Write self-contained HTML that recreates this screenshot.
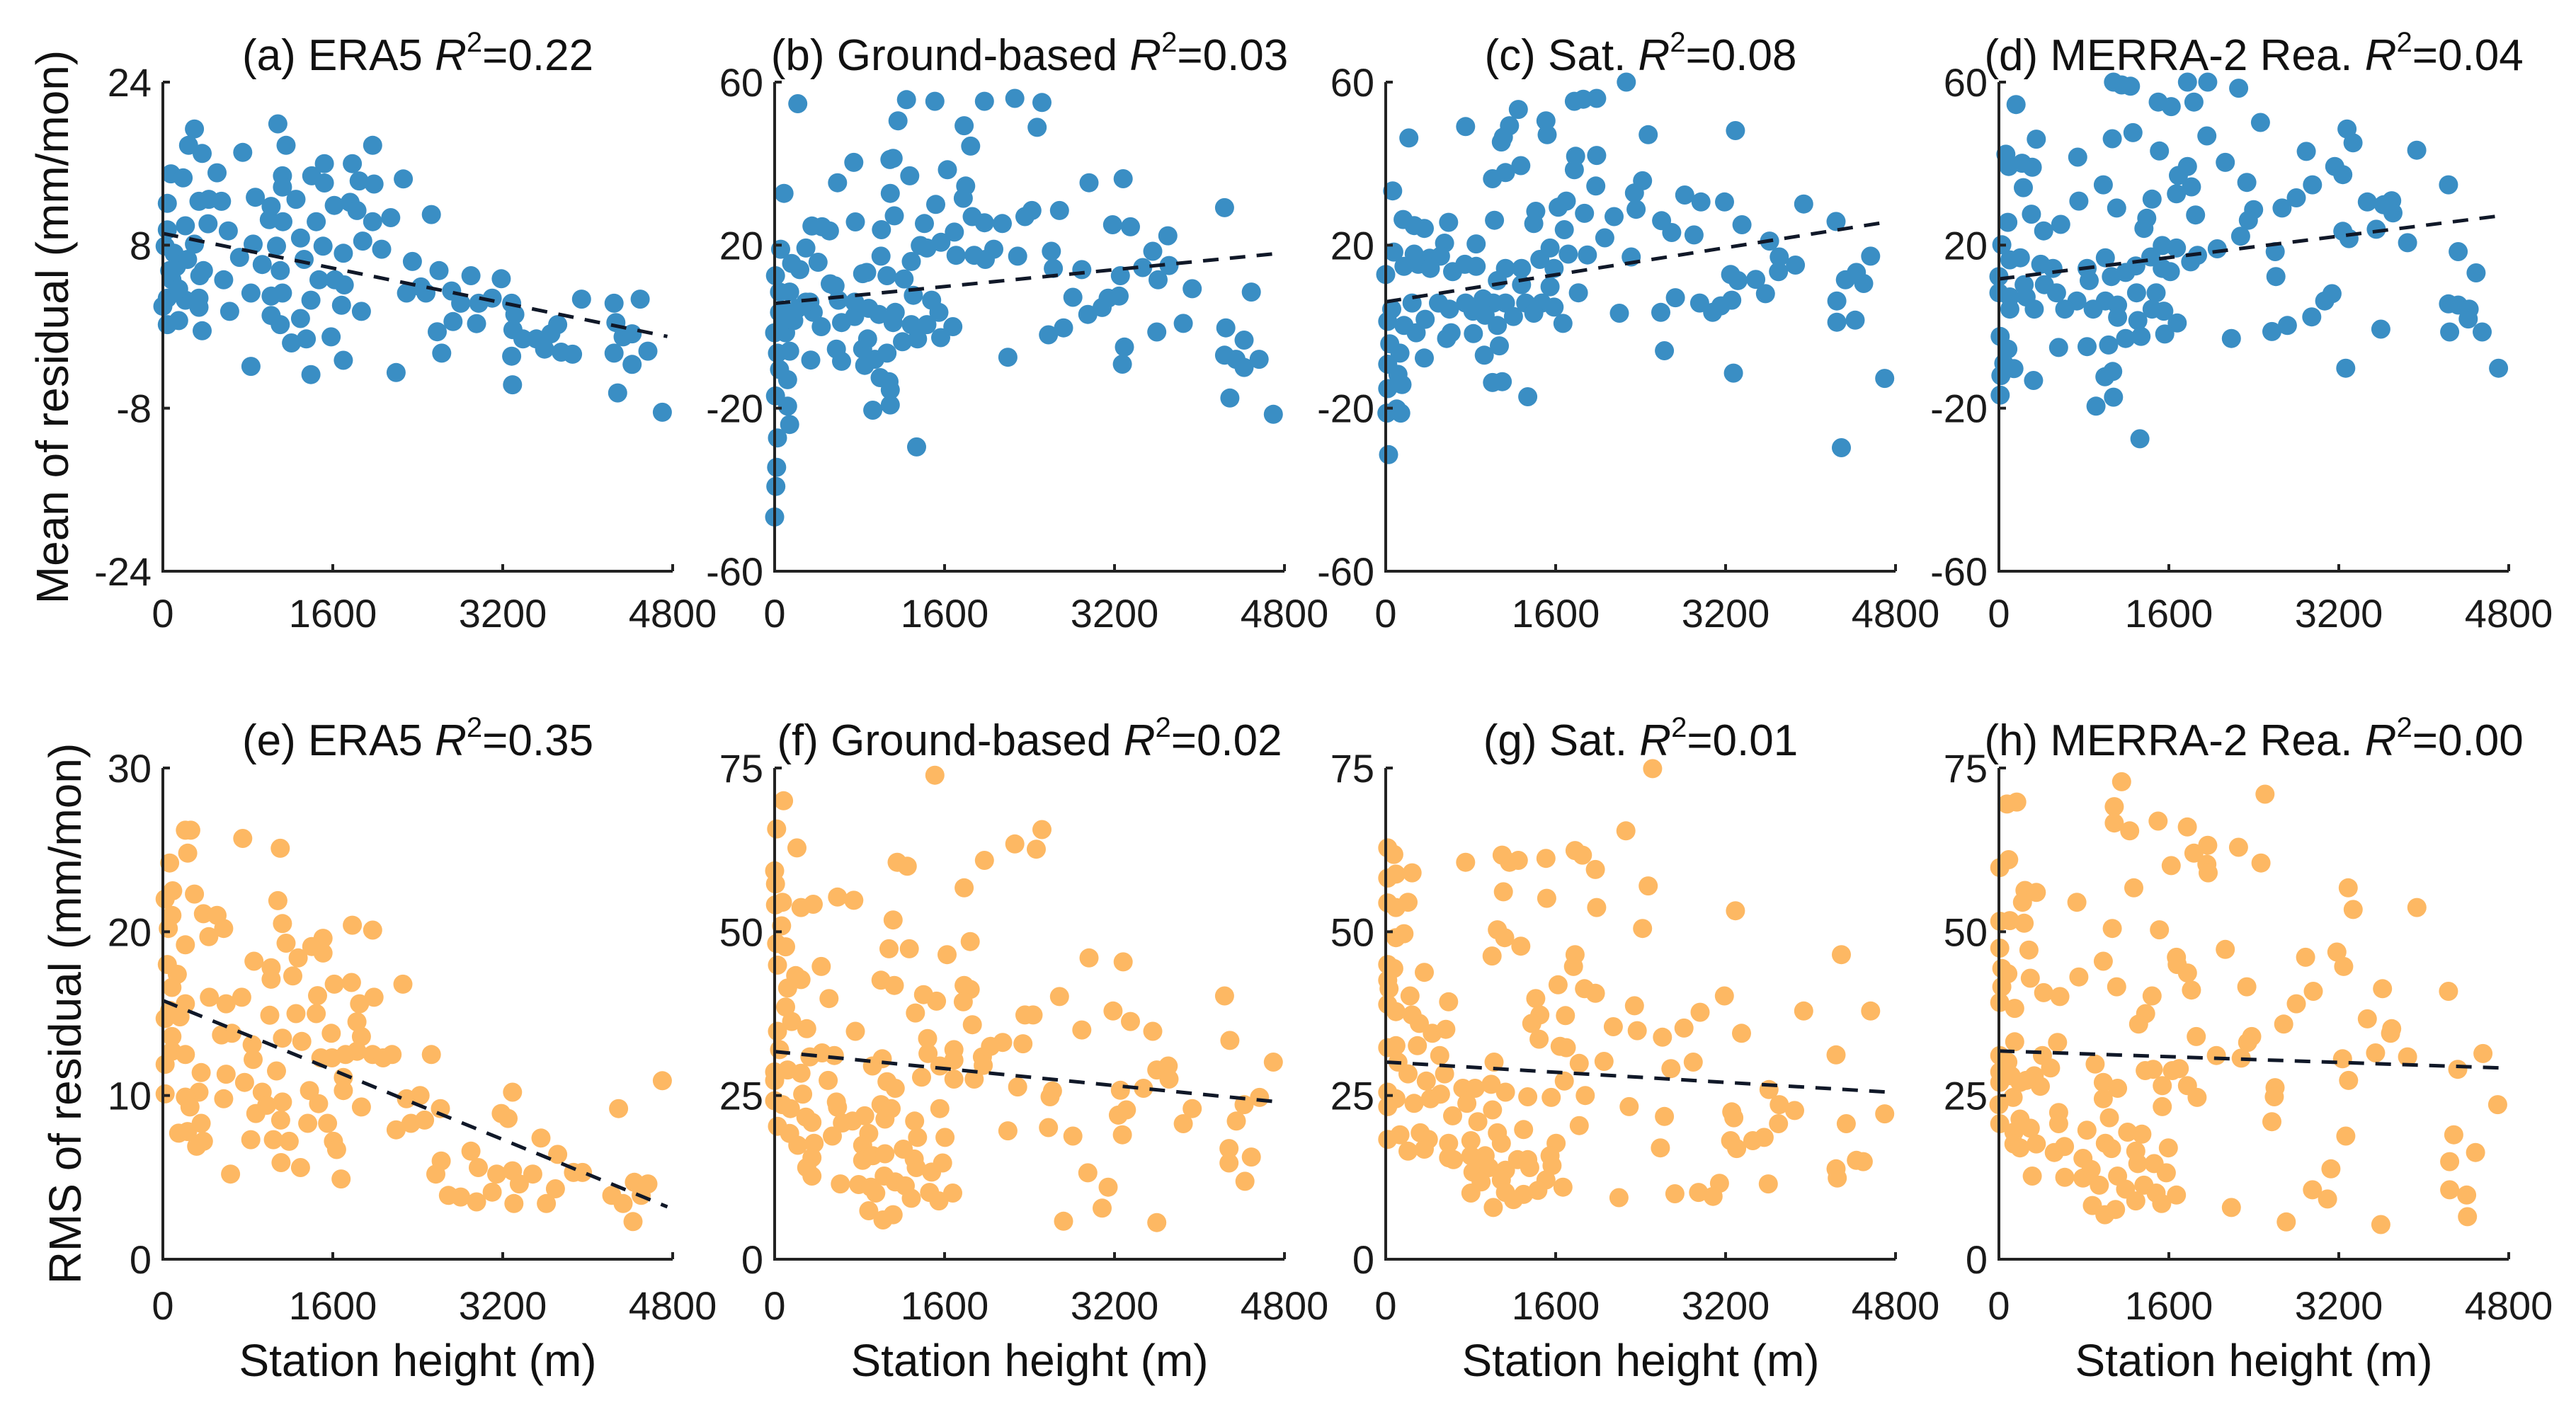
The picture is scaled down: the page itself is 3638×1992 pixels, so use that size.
<!DOCTYPE html>
<html><head><meta charset="utf-8"><style>
html,body{margin:0;padding:0;background:#fff;}
svg{display:block;font-family:"Liberation Sans",Arial,sans-serif;}
</style></head><body>
<svg id="chart" width="3638" height="1992" viewBox="0 0 3638 1992" xmlns="http://www.w3.org/2000/svg"></svg>
<script>
const xTicks=[0,1600,3200,4800];
const meanTicksA=[-24,-8,8,24];
const meanTicksB=[-60,-20,20,60];
const rmsTicksE=[0,10,20,30];
const rmsTicksF=[0,25,50,75];
const titles=[["(a) ERA5 ","0.22"],["(b) Ground-based ","0.03"],["(c) Sat. ","0.08"],["(d) MERRA-2 Rea. ","0.04"],["(e) ERA5 ","0.35"],["(f) Ground-based ","0.02"],["(g) Sat. ","0.01"],["(h) MERRA-2 Rea. ","0.00"]];
const trendStart=[9.15,5.7,6.1,11.7,15.8,31.7,30.1,31.8];
const trendEnd=[-0.96,18,25.8,27.3,3.2,24,25.5,29.2];
const trendXEnd=4750;

const pointsA=[[297,19.4],[1083,19.9],[242,17.8],[370,17],[752,17.1],[1160,17.8],[1975,17.8],[1521,16],[1784,16],[510,15.1],[76,15],[191,14.6],[1126,14.8],[1402,14.8],[1521,14.1],[1848,14.3],[1988,14],[2264,14.5],[1126,13.7],[871,12.7],[1253,12.5],[1019,11.8],[340,12.3],[433,12.5],[552,12.3],[42,12.1],[1614,11.9],[1763,12.2],[1827,11.4],[2528,11],[2145,10.7],[1975,10.3],[1002,10.5],[1130,10.3],[1444,10.3],[425,10.1],[616,9.4],[42,9.5],[212,9.9],[21,7.9],[850,8.1],[1070,7.9],[1296,8.7],[1508,7.9],[1699,7.2],[1882,8.4],[2060,7.6],[1330,6.6],[722,6.8],[935,6.1],[1105,5.5],[2349,6.4],[2600,5.5],[2901,5],[3186,4.7],[573,4.6],[348,5],[127,5.9],[85,4.6],[1470,4.6],[1619,4.6],[1708,4.1],[2430,3.9],[2294,3.3],[2477,3.3],[2719,3.5],[829,3.3],[1019,3],[1126,3.3],[1394,2.6],[3942,2.7],[4248,2.3],[4494,2.7],[2804,2.3],[2974,2.3],[3101,2.8],[3284,2.3],[340,2.8],[42,2.8],[212,2.6],[1682,2.1],[3314,1.2],[629,1.5],[1869,1.5],[1019,1.1],[340,1.9],[149,0.6],[42,0.2],[1105,0.2],[2732,0.5],[2953,0.3],[1296,0.8],[3717,0.2],[3296,-0.3],[2583,-0.5],[4265,0.4],[370,-0.4],[3390,-1.2],[3517,-1.2],[3653,-0.7],[3594,-2.2],[3751,-2.5],[3857,-2.7],[4333,-1],[4418,-0.7],[4248,-2.6],[4567,-2.4],[3284,-2.9],[2625,-2.6],[1211,-1.6],[1351,-1.2],[1584,-1],[1699,-3.3],[829,-3.9],[1394,-4.7],[2196,-4.5],[3292,-5.7],[4418,-3.7],[4282,-6.5],[4703,-8.4],[0,2],[64,5.5],[106,7.2],[149,3.7],[233,6.6],[297,8.1],[382,5.5]];

const pointsB=[[218,54.7],[88,32.7],[1241,55.7],[1509,55.3],[1975,55.3],[2261,56],[2517,55],[2471,48.9],[1161,50.5],[1784,49.3],[1845,44.3],[745,40.3],[1085,41],[1115,41.3],[1272,37],[1627,38.5],[592,35.3],[1089,32.7],[1799,34.5],[1776,31.5],[1517,30],[1127,27.2],[760,25.7],[351,24.7],[447,24.5],[516,23.5],[1005,23.8],[1410,25.3],[1692,23.2],[1860,27],[1975,25.5],[2143,25.3],[2357,27],[2422,28.5],[2682,28.5],[2960,35.3],[3281,36.3],[3182,25],[3350,24.5],[4236,29.2],[3702,22.3],[3560,18.5],[2605,18.5],[2624,14.3],[2288,17.3],[2063,19],[1983,16.5],[1879,17.5],[1708,17.5],[1566,20.7],[1433,19.3],[1371,19.9],[1287,16],[1001,17.3],[1219,11.7],[1058,12.5],[829,13],[867,13.3],[57,19],[294,19.3],[409,15.8],[160,15.5],[237,14],[523,10.5],[569,10],[332,6],[8,12.5],[46,8.5],[46,3.5],[0,-1.5],[103,-1.5],[27,-6.5],[141,-6],[46,-10.5],[122,-13],[8,-17],[122,-19.5],[141,-24],[27,-27.3],[19,-34.5],[11,-39.2],[0,-46.7],[2892,14],[3255,12.5],[3465,14.5],[3610,11.5],[3713,15],[3931,9.3],[4488,8.5],[2808,7.2],[3243,7.5],[3140,7],[3083,4.7],[2949,3],[2720,-0.3],[2578,-2],[3598,-1.3],[3847,0.8],[4248,-0.3],[4420,-3.3],[3293,-5],[3274,-9.2],[4236,-7],[4343,-8],[4420,-10],[4561,-8],[4286,-17.5],[4695,-21.5],[2196,-7.5],[1337,-29.5],[924,-20.5],[1089,-19.2],[1089,-15.5],[993,-12.5],[1077,-13.5],[848,-9.5],[943,-8],[829,-5.5],[1058,-6.5],[630,-8.5],[340,-8.2],[581,-5.5],[439,0],[630,1],[875,-3],[1203,-3.7],[1345,-3],[1287,0.5],[1433,0.5],[1563,-2.7],[1678,0],[1547,3.5],[1478,6.5],[1306,7.7],[1135,3.5],[1115,1],[982,3],[886,4.5],[753,2.5],[753,6],[600,6.5],[363,3.5],[294,6],[141,8.5],[180,1.5],[84,1.5],[218,4.5],[122,3.5]];

const pointsC=[[2265,60],[1776,55.3],[1860,55.8],[1986,56],[1249,53.3],[1165,49.3],[752,49.1],[1509,50.5],[1520,47.1],[218,46.3],[1089,45.3],[1108,46.5],[2471,47.1],[3293,48.1],[1788,41.8],[1986,42],[1776,38.5],[1272,39.5],[1127,37.8],[1005,36.3],[1978,34.5],[2418,35.8],[2342,32.8],[65,33.3],[2815,32.3],[2968,30.6],[3190,30.6],[3935,30.1],[1700,30.8],[1624,29.3],[1871,27.8],[1413,28.3],[1394,25.3],[1024,26.1],[592,25.6],[164,26.3],[268,24.8],[363,24.1],[2150,27],[2357,28.8],[2597,26],[2693,23.1],[2903,22.5],[3354,25],[4240,25.8],[1681,23.8],[2063,21.8],[3614,21],[851,20.3],[554,20.5],[76,18.3],[268,17.8],[413,16.8],[516,17.3],[1547,19.3],[1451,16.5],[1719,17.8],[1899,17.6],[2311,17.1],[3705,17.1],[4565,17.3],[3857,15.1],[3698,13.5],[4328,11.5],[4431,13.3],[4500,10.6],[3247,12.8],[3316,11.3],[3484,11.6],[0,12.8],[172,14.8],[306,15.3],[420,14.3],[630,13.5],[745,15.3],[851,14.8],[1127,14.3],[1279,14.3],[1585,14.3],[1051,11.3],[1279,10.3],[1547,9.8],[1814,8.3],[3575,8.1],[2727,7.1],[2956,5.8],[3078,3.5],[3155,5.1],[3258,6.5],[4247,6.3],[57,4.3],[248,5.8],[497,5.8],[600,4.3],[752,5.8],[917,6.8],[1013,5.8],[1127,5.8],[1318,5.8],[1470,5.8],[1585,4.8],[1394,3.3],[1203,2.5],[936,2.8],[821,3.8],[2200,3.3],[2590,3.5],[1669,0.8],[4247,1.1],[4420,1.6],[19,1.3],[172,0.3],[287,-1.5],[371,1.8],[615,-1.5],[573,-2.9],[825,-1.7],[1051,0.3],[1070,-4.7],[38,-4.2],[134,-6.5],[363,-7.7],[928,-7],[2624,-5.9],[19,-9.2],[115,-11.7],[153,-14.2],[19,-15.2],[1005,-13.7],[1097,-13.5],[3274,-11.4],[4698,-12.7],[1337,-17.2],[11,-21.2],[103,-20.2],[141,-21.2],[27,-31.4],[4290,-29.7]];

const pointsD=[[1079,60],[1155,59.3],[1239,59],[1775,60],[1966,60],[2257,58.5],[161,54.5],[1500,55.1],[1622,54],[1836,55.1],[2463,50.1],[1262,47.6],[352,46],[1067,46.1],[1958,46.8],[3277,48.5],[3334,45.1],[1511,43.1],[2894,43],[3934,43.3],[65,42.3],[92,39.3],[218,40.1],[314,39.1],[742,41.6],[2131,40.3],[1775,39.3],[1690,37.1],[3162,39.3],[3238,37.3],[2952,34.8],[4233,34.8],[230,34.1],[983,34.8],[1813,34.3],[1671,32.6],[2334,35.4],[2800,31.6],[1442,31.3],[753,30.8],[1109,29.1],[1851,27.4],[3469,30.6],[3622,29.9],[3698,30.9],[3710,27.9],[2666,29.1],[2398,28.7],[2349,26.1],[306,27.6],[84,25.6],[1392,26.6],[1365,24.1],[582,25.1],[421,23.5],[2276,22.2],[3238,23.4],[3296,21.6],[3553,23.9],[3847,20.6],[4324,18.4],[4493,13.2],[27,20.1],[1538,19.9],[1671,19.3],[1430,17.1],[2055,19.1],[2601,18.4],[1870,17.5],[1805,15.9],[2608,12.3],[0,12.3],[103,16.4],[202,16.9],[394,15.3],[509,14.3],[830,14.3],[1002,16.9],[1289,14.9],[1538,14.3],[1614,13.5],[850,11.3],[1059,12.3],[1193,13.3],[237,10.3],[428,10.3],[0,8.3],[103,7.3],[256,7.3],[543,8.3],[734,6.3],[1296,8.3],[1480,8.3],[1002,6.3],[1117,5.3],[103,4.3],[333,4.3],[620,4.3],[887,4.3],[1117,2.3],[1442,4.3],[1553,3.8],[3067,6.3],[3136,8.1],[4233,5.6],[4324,5.3],[4427,4.3],[4419,1.9],[2945,2.4],[2716,0.3],[2570,-1.2],[3596,-0.6],[4244,-1.3],[4550,-1.3],[1679,0.9],[1308,1.5],[1561,-1.8],[1338,-2.4],[1193,-2.9],[2189,-2.9],[12,-2.4],[84,-5.5],[562,-5.1],[830,-4.9],[1033,-4.5],[46,-9],[141,-10.3],[19,-12],[326,-13.2],[998,-12.3],[1071,-11],[3265,-10.2],[4704,-10.2],[12,-16.8],[1079,-17.3],[914,-19.5],[1327,-27.5]];

const pointsE=[[212,26.2],[263,26.2],[752,25.7],[1105,25.1],[234,24.8],[64,24.2],[93,22.5],[297,22.3],[21,22],[1083,21.9],[382,21.1],[510,21],[433,19.7],[573,20.2],[85,21],[51,20.2],[212,19.2],[1126,20.5],[1784,20.4],[1975,20.1],[1160,19.3],[1402,19.1],[1508,19.6],[1508,18.7],[1274,18.4],[858,18.2],[1019,17.8],[1223,17.3],[136,17.4],[42,18],[85,16.6],[1614,16.8],[1776,16.9],[2260,16.8],[1019,17.1],[438,16],[595,15.6],[743,16],[1457,16.1],[1852,15.6],[1988,16],[212,15.6],[64,15.2],[1007,14.9],[1253,15],[21,14.7],[161,14.8],[1444,15],[1827,14.5],[552,13.7],[650,13.8],[1585,13.8],[1869,13.6],[85,13.6],[1126,13.5],[1308,13.3],[1827,12.7],[841,13.1],[85,12.7],[212,12.5],[1487,12.3],[1593,12.3],[1720,12.5],[1975,12.5],[2073,12.3],[2158,12.5],[2528,12.5],[850,12.2],[1070,11.5],[595,11.3],[361,11.4],[21,11.9],[1699,11.1],[769,10.8],[935,10.2],[1381,10.3],[1699,10.3],[340,10.2],[21,10.1],[3292,10.2],[212,9.9],[573,9.8],[2294,9.8],[2421,10],[1126,9.6],[978,9.4],[1466,9.5],[255,9.3],[1869,9.3],[2613,9.2],[3186,8.9],[3250,8.6],[4291,9.2],[4703,10.9],[875,8.9],[1109,8.5],[1364,8.3],[1551,8.3],[361,8.3],[2336,8.3],[2464,8.5],[2196,7.9],[149,7.7],[233,7.8],[828,7.3],[1041,7.3],[1189,7.2],[1606,7.2],[3560,7.4],[382,7.2],[318,6.9],[1636,6.7],[2901,6.6],[3717,6.4],[1113,5.9],[1296,5.6],[2621,6],[2570,5.2],[2970,5.6],[637,5.2],[1678,4.9],[3143,5.2],[3292,5.4],[3483,5.2],[3356,4.6],[3866,5.3],[3951,5.3],[2689,3.9],[2804,3.8],[2953,3.5],[3101,4.1],[3305,3.4],[3611,3.4],[3696,4.3],[4227,3.9],[4333,3.4],[4439,4.7],[4567,4.6],[4503,3.9],[4427,2.3]];

const pointsF=[[1509,73.9],[84,70],[19,65.7],[210,62.8],[0,59.3],[8,57.3],[8,54.1],[73,54.5],[248,53.7],[363,54.2],[592,55.3],[745,54.8],[1153,60.6],[1249,60],[1975,60.9],[2261,63.4],[2517,65.6],[2463,62.6],[1784,56.7],[1115,51.8],[65,50.9],[19,48.2],[103,47.7],[1077,47.4],[1268,47.4],[1841,48.5],[1623,46.5],[2960,46],[3281,45.4],[27,44.9],[198,43.3],[248,42.7],[439,44.7],[122,41.4],[1001,42.6],[1127,41.8],[1784,41.8],[1841,41.2],[1776,39.3],[512,39.8],[1402,40.4],[1524,39.4],[2682,40.1],[4236,40.2],[103,38.5],[1325,37.6],[1861,35.8],[2357,37.3],[2433,37.3],[3186,37.9],[3350,36.3],[160,36.3],[302,35.2],[27,34.8],[760,34.8],[2892,35],[3560,34.8],[1440,33.7],[4286,33.4],[2338,32.9],[2147,33.1],[2032,32.5],[1688,32],[1444,31.4],[46,32],[332,30.9],[447,31.5],[562,31.1],[1013,30.6],[921,29.5],[1956,30.9],[1964,29.6],[1555,29.5],[1688,30.4],[4695,30.1],[3598,28.9],[3705,29.5],[3713,27.5],[0,28.6],[122,28.9],[248,28.4],[1383,27.8],[1688,27.5],[1879,27.5],[0,27.3],[504,27.3],[1058,27.1],[1135,26.1],[2288,26.3],[3255,25.8],[3473,26.1],[2616,25.7],[2593,24.8],[264,25.2],[0,24.2],[73,23.6],[149,23],[581,24],[592,23.2],[1001,23.6],[1097,23],[1555,23],[4565,24.7],[4420,23.6],[3931,23],[3312,22.8],[3236,22],[294,21.7],[351,20.9],[848,21.9],[733,21.1],[638,20.8],[1039,21.4],[1318,21.1],[4347,21.1],[27,20.3],[3847,20.7],[2578,20.1],[141,19.2],[886,19.2],[1345,18.6],[1604,18.6],[2196,19.6],[2808,18.8],[3274,19],[543,18.8],[218,17.4],[371,17.7],[829,17.4],[4278,16.9],[1211,16.8],[351,15.5],[829,15.1],[924,15.8],[1039,16.1],[1314,15.3],[4488,15.6],[4278,14.7],[302,14],[1333,14],[1478,13.3],[1581,14.7],[351,12.7],[2949,13.2],[1031,12.7],[1135,11.8],[619,11.5],[791,11.4],[906,11],[952,10.1],[1230,11.2],[1287,9.3],[1459,10.2],[1547,8.9],[1677,10.1],[4428,11.9],[3140,11],[886,7.4],[1115,6.8],[1020,6],[3083,7.8],[2720,5.8],[3598,5.6]];

const pointsG=[[2513,74.9],[2261,65.4],[19,62.8],[76,61.8],[752,60.6],[1096,61.7],[1165,60.6],[1249,60.9],[1509,61.2],[1783,62.4],[1852,61.7],[1974,59.5],[19,58.2],[96,58.8],[248,59],[2471,57],[1108,56.1],[1516,55.1],[19,54.4],[96,53.7],[210,54.5],[1986,53.7],[3293,53.2],[2418,50.5],[1051,50.3],[1120,49.1],[172,49.7],[96,49.1],[1272,47.8],[1001,46.3],[1783,46.5],[1768,44.7],[4290,46.5],[19,45],[76,44.4],[363,43.8],[19,42.6],[31,41.3],[1623,41.9],[1871,41.3],[1974,40.6],[229,40.2],[19,38.9],[96,37.8],[592,39.3],[1413,39.8],[3189,40.2],[248,37.3],[317,36],[2342,38.7],[2960,37.7],[3935,37.9],[4565,37.9],[1451,37.3],[1692,37.2],[1375,36],[439,34.5],[566,35.1],[2143,35.5],[2368,34.9],[2808,35.3],[3350,34.5],[1444,33.6],[2605,33.9],[19,32.3],[96,32.6],[298,32.6],[1642,32.5],[1700,32.3],[509,31.1],[4240,31.2],[115,30.1],[1822,29.9],[2055,30.2],[2895,30.1],[1020,30.1],[210,28.3],[554,28.3],[382,27.2],[2685,29.1],[1681,27.2],[726,26.1],[841,26.1],[993,26.7],[1127,25.5],[19,25.5],[96,24.5],[421,24.5],[516,25.2],[1337,24.8],[1558,24.7],[1879,25],[3609,25.9],[3705,23.6],[3850,22.7],[19,23.3],[267,23.8],[764,23.8],[1005,22.8],[2292,23.3],[3258,22.5],[3277,21.6],[2624,21.8],[4698,22.2],[630,21.9],[867,21],[4336,20.7],[3698,20.7],[1822,20.4],[1298,19.8],[19,18.3],[134,19],[325,19.3],[401,18.3],[802,18.1],[1051,19.3],[1089,17.7],[1604,17.7],[3456,18.1],[3563,18.6],[3247,18.1],[592,17.7],[210,16.5],[363,16.8],[3304,16.9],[2586,17],[592,15.5],[638,15.2],[802,15.8],[936,15.8],[1547,15.8],[860,14.6],[1241,15.2],[1337,15.2],[4431,15.1],[4496,14.9],[821,13.3],[974,14],[1127,13.6],[1356,14],[1566,14.3],[4240,13.8],[4251,12.4],[3602,11.5],[3143,11.6],[1509,12.1],[898,11.8],[1089,12.1],[1669,11],[1433,10.5],[1298,9.9],[1203,9.1],[802,10.1],[1127,10.2],[2945,10.2],[3082,9.6],[2723,10],[2196,9.4],[1013,7.9]];

const pointsH=[[1155,72.9],[2505,71],[76,69.5],[168,69.8],[1086,69.1],[1086,66.6],[1231,65.4],[1499,66.9],[1774,66],[1966,63.2],[2256,62.9],[1836,62],[1958,60.3],[1970,59],[2467,60.5],[1622,60.1],[8,59.8],[92,61],[1270,56.7],[3289,56.7],[245,56.3],[352,56],[222,54.5],[734,54.5],[3335,53.4],[3935,53.7],[8,51.6],[103,51.7],[237,51.3],[1067,50.5],[1511,50.3],[8,47.5],[283,47.2],[2131,47.3],[3182,46.9],[1671,46.1],[1679,45],[1775,43.7],[2887,46.1],[983,45.5],[3246,44.7],[27,44.4],[84,43.6],[295,42.9],[753,43.1],[27,41.6],[421,40.7],[574,40.1],[1109,41.6],[1813,41.1],[2334,41.6],[2960,40.9],[3611,41.3],[4233,40.9],[1442,40.2],[8,39.2],[149,38.3],[2800,39],[1381,37.5],[1315,35.9],[3469,36.7],[2681,35.9],[3698,35.2],[3687,34.5],[1858,34],[2380,34],[2342,33.1],[149,33.2],[552,33.1],[4557,31.4],[3546,31.5],[8,31.1],[410,31.1],[84,30.1],[2047,31.1],[2281,30.7],[3235,30.6],[3847,30.9],[906,29.8],[486,29.2],[1377,28.8],[1453,29],[1633,28.8],[1698,29.1],[4320,29],[8,28.6],[115,28],[333,28],[3292,27.3],[8,27],[199,27],[390,26.4],[256,27.3],[983,27],[1117,26.1],[1538,26.5],[1775,26.5],[2600,26.2],[0,23.6],[134,24.7],[983,24.5],[1866,24.7],[2593,24.8],[1538,23.3],[4696,23.6],[8,20.7],[199,21.4],[563,22.4],[563,20.7],[1040,21.6],[2570,21],[141,19.4],[295,20],[829,19.7],[1212,19.4],[1346,19.1],[3266,18.8],[4283,19],[141,17.6],[352,17.6],[521,16.3],[617,17.2],[1002,17.7],[1060,16.9],[1289,16.5],[1595,17],[4487,16.3],[199,17],[791,15.4],[1308,14.6],[1461,14.6],[4244,14.9],[314,12.7],[620,12.5],[791,12.4],[868,13.7],[1117,12.7],[1576,13.2],[3126,13.8],[945,11.3],[1193,10.7],[1365,11.3],[1480,10.1],[1671,9.8],[4244,10.6],[4404,9.8],[2952,10.6],[3094,9.2],[1289,8.9],[880,8.2],[1098,7.6],[998,6.8],[1533,8.5],[2189,7.9],[4411,6.5],[2705,5.7],[3596,5.3]];

const NS="http://www.w3.org/2000/svg";
const svg=document.getElementById('chart');
function mk(tag,attrs,parent){const e=document.createElementNS(NS,tag);for(const k in attrs)e.setAttribute(k,attrs[k]);(parent||svg).appendChild(e);return e;}

const colX=[230,1094,1957,2823];
const axW=720;
const rows=[{top:116,bot:807},{top:1085,bot:1779}];
const panels=[
 {pts:pointsA,ticks:meanTicksA,row:0,col:0,color:"#3a8ec4"},
 {pts:pointsB,ticks:meanTicksB,row:0,col:1,color:"#3a8ec4"},
 {pts:pointsC,ticks:meanTicksB,row:0,col:2,color:"#3a8ec4"},
 {pts:pointsD,ticks:meanTicksB,row:0,col:3,color:"#3a8ec4"},
 {pts:pointsE,ticks:rmsTicksE,row:1,col:0,color:"#fdb863"},
 {pts:pointsF,ticks:rmsTicksF,row:1,col:1,color:"#fdb863"},
 {pts:pointsG,ticks:rmsTicksF,row:1,col:2,color:"#fdb863"},
 {pts:pointsH,ticks:rmsTicksF,row:1,col:3,color:"#fdb863"}
];
const letters="abcdefgh";
panels.forEach((p,i)=>{
  const x0=colX[p.col], top=rows[p.row].top, bot=rows[p.row].bot;
  const ymin=p.ticks[0], ymax=p.ticks[p.ticks.length-1];
  const xs=v=>x0+(v-xTicks[0])/(xTicks[3]-xTicks[0])*axW;
  const ys=v=>bot-(v-ymin)/(ymax-ymin)*(bot-top);
  const g=mk('g',{});
  
  
  const pg=mk('g',{},g);
  
  
  p.pts.forEach(pt=>{
    const c=mk('circle',{cx:xs(pt[0]).toFixed(1),cy:ys(pt[1]).toFixed(1),r:13.5,fill:p.color},pg);
    
    
  });
  const tl=mk('line',{x1:xs(0),y1:ys(trendStart[i]),x2:xs(trendXEnd),y2:ys(trendEnd[i]),stroke:"#101828","stroke-width":5,"stroke-dasharray":"22 16"},g);
  
  
  const ax=mk('path',{d:`M${x0},${top} V${bot} H${x0+axW}`,fill:"none",stroke:"#222","stroke-width":4},g);
  
  
  xTicks.forEach(t=>{
    mk('line',{x1:xs(t),y1:bot,x2:xs(t),y2:bot-10,stroke:"#222","stroke-width":4},g);
    const lb=mk('text',{x:xs(t),y:p.row===0?886:1864,"text-anchor":"middle","font-size":56,fill:"#1a1a1a"},g);
    lb.textContent=t;
    
    
  });
  p.ticks.forEach(t=>{
    mk('line',{x1:x0,y1:ys(t),x2:x0+10,y2:ys(t),stroke:"#222","stroke-width":4},g);
    const lb=mk('text',{x:x0-16,y:ys(t)+20,"text-anchor":"end","font-size":56,fill:"#1a1a1a"},g);
    lb.textContent=t;
    
    
  });
  const tt=mk('text',{x:x0+axW/2,y:p.row===0?99:1067,"text-anchor":"middle","font-size":62,fill:"#111"},g);
  
  
  const s1=mk('tspan',{},tt); s1.textContent=titles[i][0];
  const s2=mk('tspan',{"font-style":"italic"},tt); s2.textContent="R";
  const s3=mk('tspan',{"font-size":40,dy:-26},tt); s3.textContent="2";
  const s4=mk('tspan',{dy:26},tt); s4.textContent="="+titles[i][1];
  if(p.row===1){
    const xl=mk('text',{x:x0+axW/2,y:1944,"text-anchor":"middle","font-size":64,fill:"#111"},g);
    xl.textContent="Station height (m)";
    
    
  }
});
const yl1=mk('text',{transform:"translate(96,462) rotate(-90)","text-anchor":"middle","font-size":64,fill:"#111"});
yl1.textContent="Mean of residual (mm/mon)";


const yl2=mk('text',{transform:"translate(114,1432) rotate(-90)","text-anchor":"middle","font-size":64,fill:"#111"});
yl2.textContent="RMS of residual (mm/mon)";


</script>
</body></html>
